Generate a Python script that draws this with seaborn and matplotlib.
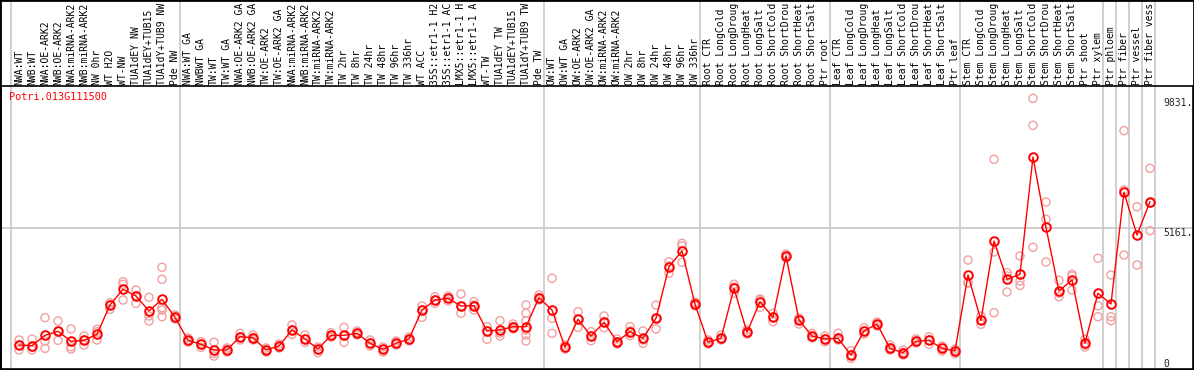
import numpy as np
import pandas as pd
import matplotlib
matplotlib.use("Agg")
import matplotlib.pyplot as plt
import matplotlib.transforms as mtransforms
from matplotlib.patches import Rectangle
import seaborn as sns

gene = "Potri.013G111500"

samples = [
    "NWA:WT", "NWB:WT", "NWA:OE-ARK2", "NWB:OE-ARK2", "NWA:miRNA-ARK2", "NWB:miRNA-ARK2",
    "NW 0hr", "WT H2O", "WT-NW", "TUA1dEY NW", "TUA1dEY+TUB15", "TUA1dY+TUB9 NW", "Pde NW",
    "NWA:WT GA", "NWBWT GA", "TW:WT", "TW:WT GA", "NWA:OE-ARK2 GA", "NWB:OE-ARK2 GA",
    "TW:OE-ARK2", "TW:OE-ARK2 GA", "NWA:miRNA-ARK2", "NWB:miRNA-ARK2", "TW:miRNA-ARK2",
    "TW:miRNA-ARK2", "TW 2hr", "TW 8hr", "TW 24hr", "TW 48hr", "TW 96hr", "TW 336hr",
    "WT ACC", "35S::etr1-1 H2", "35S::etr1-1 AC", "LMX5::etr1-1 H", "LMX5::etr1-1 A",
    "WT-TW", "TUA1dEY TW", "TUA1dEY+TUB15", "TUA1dY+TUB9 TW", "Pde TW",
    "OW:WT", "OW:WT GA", "OW:OE-ARK2", "OW:OE-ARK2 GA", "OW:miRNA-ARK2", "OW:miRNA-ARK2",
    "OW 2hr", "OW 8hr", "OW 24hr", "OW 48hr", "OW 96hr", "OW 336hr",
    "Root CTR", "Root LongCold", "Root LongDroug", "Root LongHeat", "Root LongSalt",
    "Root ShortCold", "Root ShortDrou", "Root ShortHeat", "Root ShortSalt", "Ptr root",
    "Leaf CTR", "Leaf LongCold", "Leaf LongDroug", "Leaf LongHeat", "Leaf LongSalt",
    "Leaf ShortCold", "Leaf ShortDrou", "Leaf ShortHeat", "Leaf ShortSalt", "Ptr leaf",
    "Stem CTR", "Stem LongCold", "Stem LongDroug", "Stem LongHeat", "Stem LongSalt",
    "Stem ShortCold", "Stem ShortDrou", "Stem ShortHeat", "Stem ShortSalt", "Ptr shoot",
    "Ptr xylem", "Ptr phloem", "Ptr fiber", "Ptr vessel", "Ptr fiber vess",
]

means = [
    947, 922, 1296, 1440, 1080, 1116, 1332, 2387, 2952, 2711, 2171, 2592, 1944,
    1116, 972, 767, 767, 1246, 1210, 767, 911, 1487, 1163, 803, 1296, 1296, 1368,
    1008, 792, 1008, 1163, 2207, 2567, 2628, 2351, 2362, 1451, 1487, 1606, 1606, 2650,
    2207, 864, 1872, 1271, 1764, 1066, 1426, 1188, 1908, 3766, 4331, 2423,
    1044, 1188, 2988, 1404, 2506, 1944, 4151, 1847, 1271, 1163,
    1188, 587, 1451, 1703, 828, 670, 1080, 1116, 828, 731,
    3467, 1836, 4691, 3312, 3492, 7715, 5184, 2891, 3287, 1019, 2808,
    2423, 6444, 4907, 6106,
]

replicates = [
    [1127, 767, 947], [1163, 875, 767], [1930, 1091, 828], [1811, 1116, 1451],
    [1523, 886, 803], [1271, 947, 1127], [1512, 1127, 1426], [2470, 2232, 2387],
    [3226, 3132, 2567], [2927, 2448, 2711], [2664, 1991, 1811],
    [3744, 3312, 2290, 2207, 1966], [1944, 2027, 1883],
    [1116, 1199, 1055], [1066, 864, 983], [1044, 648, 551], [767, 839, 695],
    [1368, 1127, 1235], [1210, 1307, 1127], [767, 839, 695], [983, 839, 911],
    [1667, 1332, 1487], [1307, 1044, 1163], [670, 767, 875], [1390, 1224, 1296],
    [1584, 1044, 1271], [1451, 1307, 1379], [1127, 911, 1019], [792, 875, 695],
    [1091, 947, 1019], [1163, 1235, 1091], [2351, 1944, 2207], [2686, 2448, 2567],
    [2628, 2711, 2531], [2783, 2088, 2351], [2506, 2207, 2387], [1606, 1152, 1451],
    [1822, 1271, 1379], [1606, 1703, 1523], [2387, 2088, 1822, 1487, 1307, 1091],
    [2650, 2747, 2567],
    [3348, 1908, 1368], [864, 947, 803], [2146, 1584, 1883], [1426, 1102, 1271],
    [1991, 1570, 1775], [1066, 1163, 983], [1606, 1282, 1451], [1451, 1008, 1127],
    [2387, 1523, 1919], [3946, 3528, 3791], [4608, 3924, 4511], [2423, 2495, 2351],
    [1044, 1127, 983], [1307, 1127, 1199], [3132, 2808, 3035], [1404, 1487, 1343],
    [2603, 2304, 2567], [2088, 1786, 1955], [4151, 4223, 4079], [1703, 1919, 1847],
    [1368, 1199, 1271], [1271, 1066, 1163],
    [1368, 1127, 1199], [742, 468, 587], [1570, 1343, 1451], [1703, 1775, 1631],
    [947, 767, 839], [670, 767, 587], [1080, 1163, 1019], [1246, 972, 1127],
    [731, 911, 839], [634, 803, 731],
    [4007, 3190, 3179], [1991, 1692, 1847], [7632, 4295, 2110], [3550, 2855, 3431],
    [4151, 3251, 3096], [9828, 8856, 4464], [6095, 5472, 3935], [3276, 2686, 2819],
    [3492, 2927, 3431], [875, 1152, 947], [4068, 2362, 1966],
    [3467, 1966, 1822], [8662, 4187, 6527], [5926, 3827], [7308, 5062, 6059],
]

group_starts = [0, 13, 41, 53, 63, 73, 84, 85, 86, 87, 88]
ytick_values = [0, 5161, 9831]
ytick_labels = ["0", "5161.", "9831."]

sns.set_theme(style="white")
plt.rcParams["font.family"] = ["DejaVu Sans Mono", "DejaVu Sans"]

W, H = 1194, 370
fig = plt.figure(figsize=(W / 100, H / 100), dpi=100)
fig.patch.set_facecolor("white")
ax = fig.add_axes([1 / W, 1 / H, 1192 / W, 283 / H])
ax.set_facecolor("white")

x = np.arange(len(samples))
rep_df = pd.DataFrame(
    [(i, v) for i, reps in enumerate(replicates) for v in reps], columns=["idx", "value"]
)
mean_df = pd.DataFrame({"idx": x, "value": means})

# gridlines
ax.vlines(np.array(group_starts) - 0.59, 0, 1 + 86 / 283,
          transform=ax.get_xaxis_transform(), clip_on=False,
          colors="#c4c4c4", lw=1.1, zorder=0)
ax.axhline(ytick_values[1], color="#c4c4c4", lw=1.1, zorder=0)

sns.scatterplot(data=rep_df, x="idx", y="value", ax=ax, marker="o", s=34,
                facecolors="none", edgecolor="#f2a0a0", linewidth=1.0,
                zorder=3, legend=False)
sns.lineplot(data=mean_df, x="idx", y="value", ax=ax, color="#ff0000", lw=1.0,
             marker="o", markersize=6.2, markerfacecolor="none",
             markeredgecolor="#ff0000", markeredgewidth=1.4, zorder=4)

ax.set_xlim(-1.385, 90.31)
ax.set_ylim(83, 10271)
ax.set_xlabel("")
ax.set_ylabel("")
ax.set_yticks([])
ax.xaxis.tick_top()
ax.set_xticks(x)
ax.set_xticklabels(samples, rotation=90, fontsize=7.0, color="black")
ax.tick_params(axis="x", length=0, pad=0.8)

for s in ax.spines.values():
    s.set_visible(True)
    s.set_color("black")
    s.set_linewidth(1.2)

ax.text(0.0067, 0.962, gene, transform=ax.transAxes, color="#ff0000",
        fontsize=7.3, ha="left", va="center")

trans = mtransforms.blended_transform_factory(ax.transAxes, ax.transData)
lx = (1163 - 1) / 1192
ax.text(lx, ytick_values[2], ytick_labels[2], transform=trans, fontsize=7.0,
        ha="left", va="top")
ax.text(lx, ytick_values[1], ytick_labels[1], transform=trans, fontsize=7.0,
        ha="left", va="top")
ax.text(lx, ax.get_ylim()[0], ytick_labels[0], transform=trans, fontsize=7.0,
        ha="left", va="bottom")

fig.add_artist(Rectangle((0, 0), 1, 1, transform=fig.transFigure, fill=False,
                         edgecolor="black", lw=2.0, zorder=10))

fig.savefig("out.png", dpi=100, facecolor="white")
